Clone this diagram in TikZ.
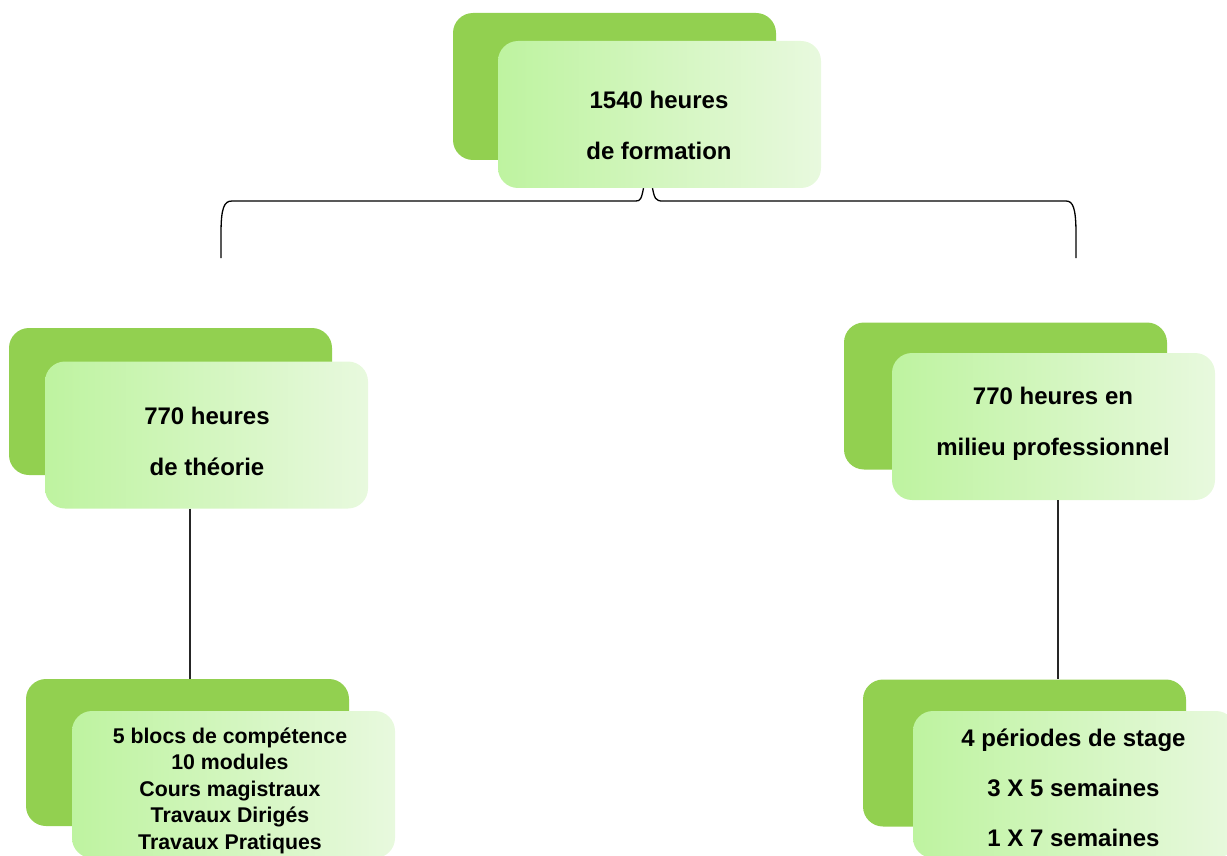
\documentclass[tikz,border=0pt]{standalone}
\usepackage{fontspec}
\setmainfont{Liberation Sans}
\usetikzlibrary{calc}
\definecolor{backgreen}{RGB}{146,208,80}
\definecolor{frontL}{RGB}{190,243,160}
\definecolor{frontR}{RGB}{232,249,222}
\begin{document}
\begin{tikzpicture}[x=1pt,y=-1pt,
  back/.style={fill=backgreen, draw=none, rounded corners=20pt, minimum width=323pt, minimum height=147pt, inner sep=0pt},
  front/.style={rounded corners=20pt, left color=frontL, right color=frontR, draw=none, minimum width=323pt, minimum height=147pt, inner sep=0pt},
  lbl/.style={font=\bfseries\fontsize{24}{51}\selectfont, align=center, inner sep=0pt},
  smalllbl/.style={font=\bfseries\fontsize{21.3}{26.5}\selectfont, align=center, inner sep=0pt},
  link/.style={line width=1.3pt, black},
  vlink/.style={line width=1.1pt, black!85}]
\useasboundingbox (0,0) rectangle (1227,856);
\clip (0,0) rectangle (1227,856);
% top
\node[back] (topback) at (614.5,86.5) {};
\node[front] (top) at (659.5,114.5) {};
\node[lbl] (toptext) at (659,125.5) {1540 heures\\de formation};
% middle left
\node[back] (mlback) at (170.5,401.5) {};
\node[front] (ml) at (206.5,435) {};
\node[lbl] (mltext) at (207,441) {770 heures\\de théorie};
% middle right
\node[back] (mrback) at (1005.5,396) {};
\node[front] (mr) at (1053.5,426.5) {};
\node[lbl] (mrtext) at (1053,424) {770 heures en\\milieu professionnel};
% bottom left
\node[back] (blback) at (187.5,752.5) {};
\node[front] (bl) at (233.5,784.5) {};
\node[smalllbl] (bltext) at (230,790.5) {5 blocs de compétence\\10 modules\\Cours magistraux\\Travaux Dirigés\\Travaux Pratiques};
% bottom right
\node[back] (brback) at (1024.5,753) {};
\node[front] (br) at (1074.5,784.5) {};
\node[lbl, font=\bfseries\fontsize{24}{50}\selectfont] (brtext) at (1073.5,787.5) {4 périodes de stage\\3 X 5 semaines\\1 X 7 semaines};
% brace
\coordinate (braceL) at (221,258);
\coordinate (braceR) at (1076,258);
\draw[link] ($(top.south)+(-16,0)$) .. controls ($(top.south)+(-18,10)$) and ($(top.south)+(-19,13)$) .. (636,201)
  -- (232,201) .. controls (224,201) and (221,208) .. (221,234) -- (braceL);
\draw[link] ($(top.south)+(-7,0)$) .. controls ($(top.south)+(-5,10)$) and ($(top.south)+(-4,13)$) .. (663,201)
  -- (1066,201) .. controls (1073,201) and (1076,208) .. (1076,234) -- (braceR);
% vertical connectors
\draw[vlink] (190,0 |- ml.south) -- (190,0 |- blback.north);
\draw[vlink] (1058,0 |- mr.south) -- (1058,0 |- brback.north);
\end{tikzpicture}
\end{document}
